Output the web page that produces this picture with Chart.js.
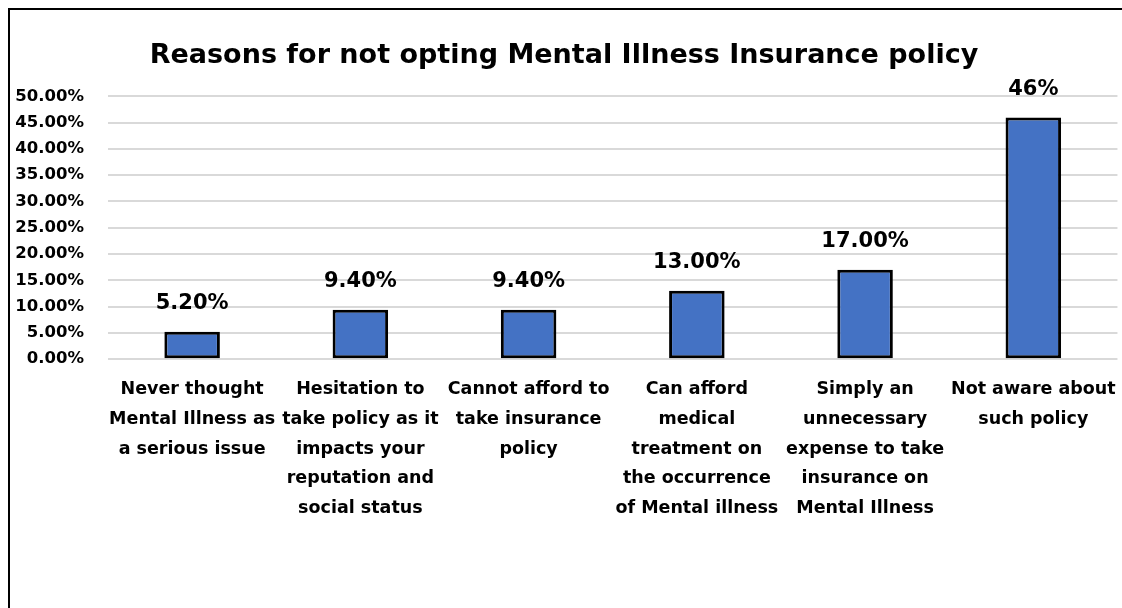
<!DOCTYPE html>
<html>
<head>
<meta charset="utf-8">
<script src="https://cdn.jsdelivr.net/npm/chart.js@4.4.1/dist/chart.umd.min.js"></script>
<style>
  html, body { margin: 0; padding: 0; background: #fff; overflow: hidden; }
  #frame { position: absolute; left: 8px; top: 8px; width: 1300px; height: 800px; border: 2px solid #000; box-sizing: border-box; }
  #wrap { position: absolute; left: 0; top: 0; width: 1132px; height: 608px; }
</style>
</head>
<body>
<div id="frame"></div>
<div id="wrap"><canvas id="chart"></canvas></div>
<script>
let reasons = [
        ["Never thought", "Mental Illness as", "a serious issue"],
        ["Hesitation to", "take policy as it", "impacts your", "reputation and", "social status"],
        ["Cannot afford to", "take insurance", "policy"],
        ["Can afford", "medical", "treatment on", "the occurrence", "of Mental illness"],
        ["Simply an", "unnecessary", "expense to take", "insurance on", "Mental Illness"],
        ["Not aware about", "such policy"]
    ],
    shares = [5.2, 9.4, 9.4, 13, 17, 46],
    shareDecimals = [2, 2, 2, 2, 2, 0],
    yTicks = [0, 5, 10, 15, 20, 25, 30, 35, 40, 45, 50]

const FONT = "'DejaVu Sans', sans-serif"

// writes the value over each bar
const valueLabels = {
    id: "valueLabels",
    afterDatasetsDraw(chart) {
        let ctx = chart.ctx
        let meta = chart.getDatasetMeta(0)
        ctx.save()
        ctx.font = "bold 21px " + FONT
        ctx.fillStyle = "#000"
        ctx.textAlign = "center"
        ctx.textBaseline = "middle"
        meta.data.forEach((bar, i) => {
            let txt = shares[i].toFixed(shareDecimals[i]) + "%"
            ctx.fillText(txt, bar.x, bar.y - 28)
        })
        ctx.restore()
    }
}

new Chart(document.getElementById("chart"), {
    type: "bar",
    plugins: [valueLabels],
    data: {
        labels: reasons,
        datasets: [{
            data: shares,
            backgroundColor: "#4472C4",
            borderColor: "#000",
            borderWidth: 3,
            borderSkipped: false,
            barPercentage: 0.33,
            categoryPercentage: 1
        }]
    },
    options: {
        responsive: true,
        maintainAspectRatio: false,
        animation: false,
        layout: { padding: { left: 0, right: 4, top: 40, bottom: 69 } },
        plugins: {
            legend: { display: false },
            tooltip: { enabled: false },
            title: {
                display: true,
                text: "Reasons for not opting Mental Illness Insurance policy",
                color: "#000",
                font: { family: FONT, size: 27, weight: "bold" },
                padding: { top: 0, bottom: 24 }
            }
        },
        scales: {
            y: {
                min: 0,
                max: 50,
                afterBuildTicks: s => { s.ticks = yTicks.map(v => ({ value: v })) },
                afterFit: s => { s.width = 108 },
                ticks: {
                    color: "#000",
                    padding: 24,
                    font: { family: FONT, size: 16.5, weight: "bold" },
                    callback: v => v.toFixed(2) + "%"
                },
                grid: { color: "#d9d9d9", lineWidth: 2, drawTicks: false },
                border: { display: false }
            },
            x: {
                ticks: {
                    color: "#000",
                    padding: 16,
                    maxRotation: 0,
                    autoSkip: false,
                    font: { family: FONT, size: 17.5, weight: "bold", lineHeight: 1.69 }
                },
                grid: { display: false, drawTicks: false },
                border: { display: false }
            }
        }
    }
})
</script>
</body>
</html>
